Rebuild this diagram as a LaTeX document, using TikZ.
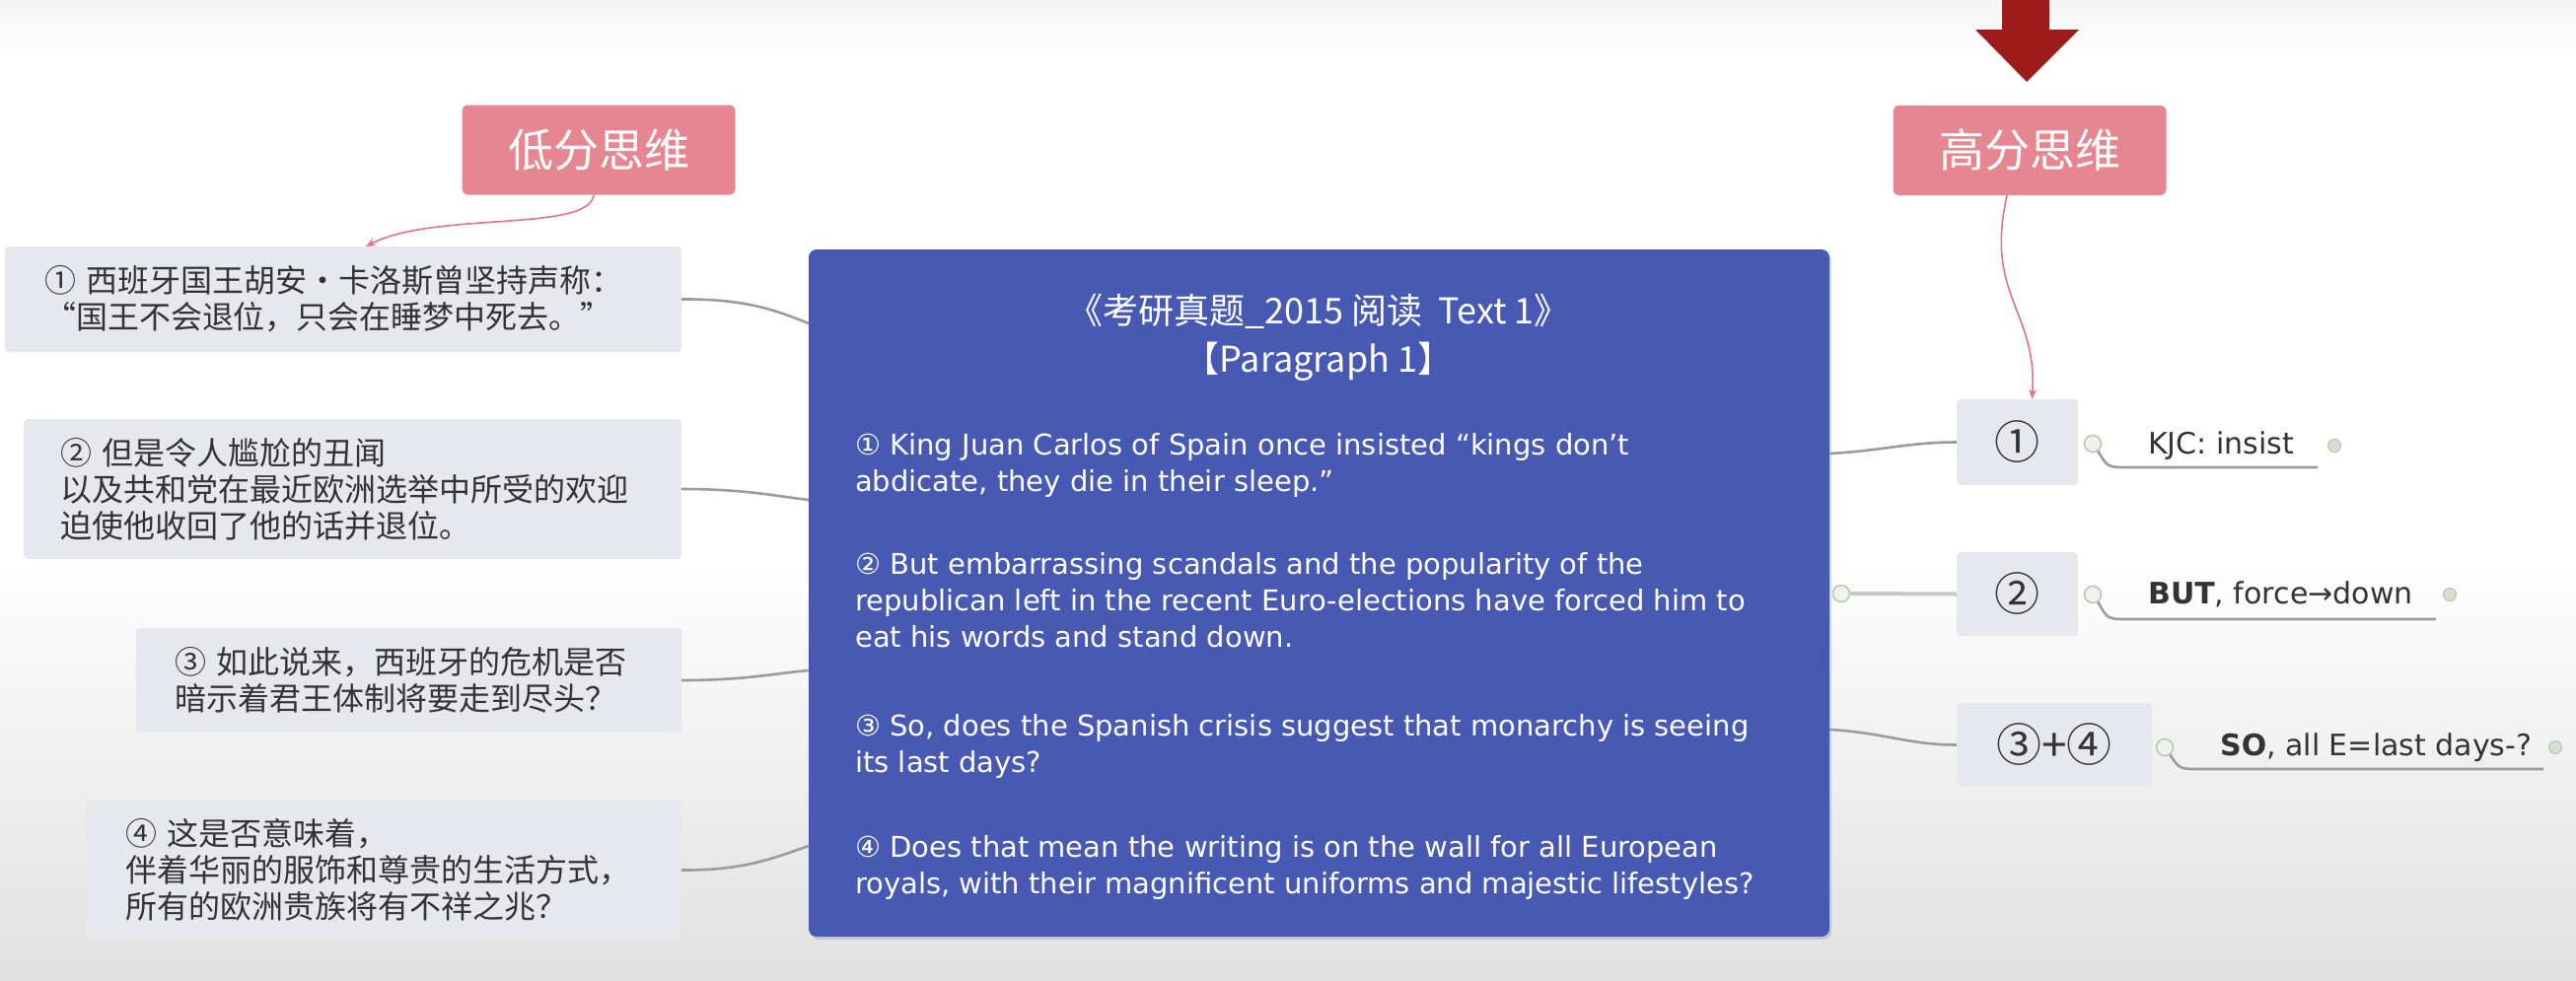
\documentclass[tikz,border=0pt]{standalone}
\usepackage{fontspec}
\setmainfont{Liberation Sans}
\newfontfamily\cjk{Noto Sans CJK SC}
\newfontfamily\djv{DejaVu Sans}
\usetikzlibrary{arrows.meta,shadows}
\definecolor{pinkbox}{HTML}{E58691}
\definecolor{pinkline}{HTML}{E27583}
\definecolor{boxgray}{HTML}{E7E8ED}
\definecolor{txtdark}{HTML}{333333}
\definecolor{parablue}{HTML}{4759B3}
\definecolor{conngray}{HTML}{9C9C9C}
\definecolor{arrowred}{HTML}{9E1B1B}
\definecolor{mkline}{HTML}{B9CCB3}
\definecolor{mkfill}{HTML}{EEF4EC}
\definecolor{bggray}{HTML}{E1E1E1}
\tikzset{
  lbox/.style={fill=boxgray, rounded corners=4pt, align=left, inner ysep=0pt, text=txtdark,
    font=\cjk\fontsize{32}{37}\selectfont},
  rbox/.style={fill=boxgray, rounded corners=4pt, inner sep=0pt, text=txtdark,
    font=\cjk\fontsize{46}{46}\selectfont},
  tagbox/.style={fill=pinkbox, rounded corners=6pt, inner sep=0pt, text=white,
    minimum width=277pt, minimum height=91pt, font=\cjk\fontsize{46}{46}\selectfont},
  paratext/.style={anchor=base west, align=left, inner sep=0pt, text=white,
    font=\djv\fontsize{29}{37}\selectfont},
  conn/.style={draw=conngray, line width=2.6pt},
  pinkconn/.style={draw=pinkline, line width=1.6pt, -{Stealth[length=10pt,width=8pt]}},
  uline/.style={draw=conngray, line width=2.6pt},
  lbl/.style={anchor=west, inner sep=0pt, text=txtdark, font=\djv\fontsize{30}{32}\selectfont},
  mkstart/.style={circle, draw=mkline, fill=mkfill, line width=1.6pt, minimum size=17pt, inner sep=0pt},
  mkend/.style={circle, draw=mkline, fill=mkline!60, line width=1.2pt, minimum size=13pt, inner sep=0pt},
}
\begin{document}
\begin{tikzpicture}[x=1pt,y=-1pt]
\useasboundingbox (0,0) rectangle (2612,994);
% background
\shade[top color=black!4, bottom color=white] (0,0) rectangle (2612,60);
\fill[white] (0,60) rectangle (2612,560);
\shade[top color=white, bottom color=bggray] (0,560) rectangle (2612,994);

% red arrow at the top
\fill[arrowred] (2030,0) -- (2078,0) -- (2078,30) -- (2108,30) -- (2055,83) -- (2003,30) -- (2030,30) -- cycle;

% tag boxes
\node[tagbox] (low) at (607,152) {低分思维};
\node[tagbox] (high) at (2058,152.5) {高分思维};

% left boxes
\node[lbox, text width=606pt, inner xsep=40pt, minimum height=107pt] (b1) at (348,303.5)
  {① 西班牙国王胡安・卡洛斯曾坚持声称：\\“国王不会退位，只会在睡梦中死去。”};
\node[lbox, text width=593pt, inner xsep=37pt, minimum height=142pt] (b2) at (357.5,496)
  {② 但是令人尴尬的丑闻\\以及共和党在最近欧洲选举中所受的欢迎\\迫使他收回了他的话并退位。};
\node[lbox, text width=475pt, inner xsep=39pt, minimum height=106pt] (b3) at (414.5,690)
  {③ 如此说来，西班牙的危机是否\\暗示着君王体制将要走到尽头？};
\node[lbox, text width=524pt, inner xsep=40pt, minimum height=141pt] (b4) at (389,882.5)
  {④ 这是否意味着，\\伴着华丽的服饰和尊贵的生活方式，\\所有的欧洲贵族将有不祥之兆？};

% central blue box
\node[fill=parablue, rounded corners=8pt, minimum width=1035pt, minimum height=697pt, inner sep=0pt,
  drop shadow={shadow xshift=2pt, shadow yshift=-3pt, opacity=0.25}] (para) at (1337.5,601.5) {};
\node[align=center, inner sep=0pt, text=white, font=\cjk\fontsize{36}{49}\selectfont] (title) at (1337,342)
  {《考研真题\_2015 阅读\ \ Text 1》\\【Paragraph 1】};
\node[paratext] (p1) at (867,498)
  {① King Juan Carlos of Spain once insisted “kings don’t\\abdicate, they die in their sleep.”};
\node[paratext] (p2) at (867,656)
  {② But embarrassing scandals and the popularity of the\\republican left in the recent Euro-elections have forced him to\\eat his words and stand down.};
\node[paratext] (p3) at (867,783)
  {③ So, does the Spanish crisis suggest that monarchy is seeing\\its last days?};
\node[paratext] (p4) at (867,906)
  {④ Does that mean the writing is on the wall for all European\\royals, with their magnificent uniforms and majestic lifestyles?};

% right boxes
\node[rbox, minimum width=123pt, minimum height=87pt] (r1) at (2045.5,448.5) {①};
\node[rbox, minimum width=123pt, minimum height=85pt] (r2) at (2045.5,602.5) {②};
\node[rbox, minimum width=198pt, minimum height=85pt] (r3) at (2083,755.5) {③+④};

% right labels
\node[lbl] (kjc) at (2178,452) {KJC: insist};
\node[lbl] (but) at (2178,603) {\textbf{BUT}, force→down};
\node[lbl] (so) at (2251,758) {\textbf{SO}, all E=last days-?};

% markers
\node[mkstart] (s0) at (1867,602) {};
\node[mkstart] (s1) at (2122,450) {};
\node[mkstart] (s2) at (2122,603) {};
\node[mkstart] (s3) at (2195,758) {};
\node[mkend] (e1) at (2367,452) {};
\node[mkend] (e2) at (2484,603) {};
\node[mkend] (e3) at (2591,758) {};

% coordinates on the blue box border
\coordinate (pl1) at (820,328);
\coordinate (pl2) at (820,507);
\coordinate (pl3) at (820,680);
\coordinate (pl4) at (820,858);
\coordinate (pr1) at (1855,460);
\coordinate (pr3) at (1855,740);
\coordinate (u1) at (2350,474);
\coordinate (u2) at (2470,628);
\coordinate (u3) at (2579,780);
\coordinate (a1) at (371,250);

% left connectors
\draw[conn] (b1.east) .. controls (755,303) and (785,314) .. (pl1);
\draw[conn] (b2.east) .. controls (755,496) and (785,503) .. (pl2);
\draw[conn] (b3.east) .. controls (755,690) and (785,683) .. (pl3);
\draw[conn] (b4.east) .. controls (755,883) and (785,870) .. (pl4);

% right connectors
\draw[conn] (pr1) .. controls (1910,457) and (1935,448.5) .. (r1.west);
\draw[draw=black!22, line width=4pt] (s0.east) -- (r2.west);
\draw[conn] (pr3) .. controls (1910,743) and (1935,755.5) .. (r3.west);

% underlines
\draw[uline] (s1.-55) .. controls (2137,474) .. (2158,474) -- (u1);
\draw[uline] (s2.-55) .. controls (2137,628) .. (2158,628) -- (u2);
\draw[uline] (s3.-55) .. controls (2210,780) .. (2231,780) -- (u3);

% pink connectors
\draw[pinkconn] ([xshift=-5pt]low.south) .. controls (598,236) and (440,214) .. (a1);
\draw[pinkconn] ([xshift=-23pt]high.south) .. controls (2012,300) and (2066,315) .. ([xshift=15pt]r1.north);
\end{tikzpicture}
\end{document}
